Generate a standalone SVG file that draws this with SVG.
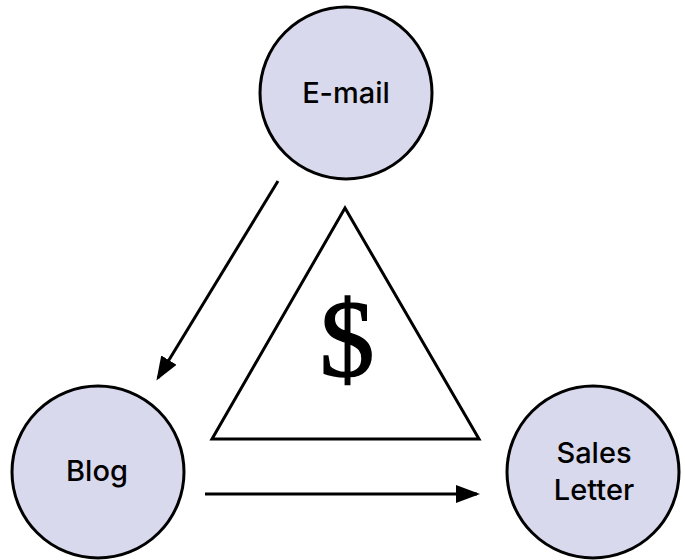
<svg xmlns="http://www.w3.org/2000/svg" width="685" height="560" viewBox="0 0 685 560">
<style>
.node{fill:#d9d9ed;stroke:#000;stroke-width:3}
.lbl{font-family:Inter,"Liberation Sans",Arial,sans-serif;font-weight:500;font-size:29px;fill:#000;text-anchor:middle}
.conn{stroke:#000;stroke-width:3;fill:none}
</style>
<defs>
<marker id="ah" markerWidth="8" markerHeight="6" refX="7" refY="3" orient="auto" markerUnits="strokeWidth">
<path d="M0,0 L8,3 L0,6 Z" fill="#000"/>
</marker>
</defs>
<rect width="685" height="560" fill="#fff"/>
<g id="email">
<circle class="node" cx="346" cy="93" r="86"/>
<text class="lbl" x="346" y="103">E-mail</text>
</g>
<g id="blog">
<circle class="node" cx="98" cy="472" r="86"/>
<text class="lbl" x="97" y="481">Blog</text>
</g>
<g id="sales">
<circle class="node" cx="593" cy="472" r="86"/>
<text class="lbl" x="594" y="463">Sales</text>
<text class="lbl" x="594" y="500">Letter</text>
</g>
<g id="money">
<polygon points="345,208 212,439 479,439" fill="#fff" stroke="#000" stroke-width="3" stroke-linejoin="miter"/>
<text x="347" y="376" font-family="'Liberation Serif','Times New Roman',serif" font-size="110" text-anchor="middle" fill="#000" stroke="#000" stroke-width="1.5">$</text>
</g>
<g id="connectors">
<line class="conn" x1="278" y1="181" x2="158" y2="378" marker-end="url(#ah)"/>
<line class="conn" x1="205" y1="494" x2="477" y2="494" marker-end="url(#ah)"/>
</g>
</svg>
